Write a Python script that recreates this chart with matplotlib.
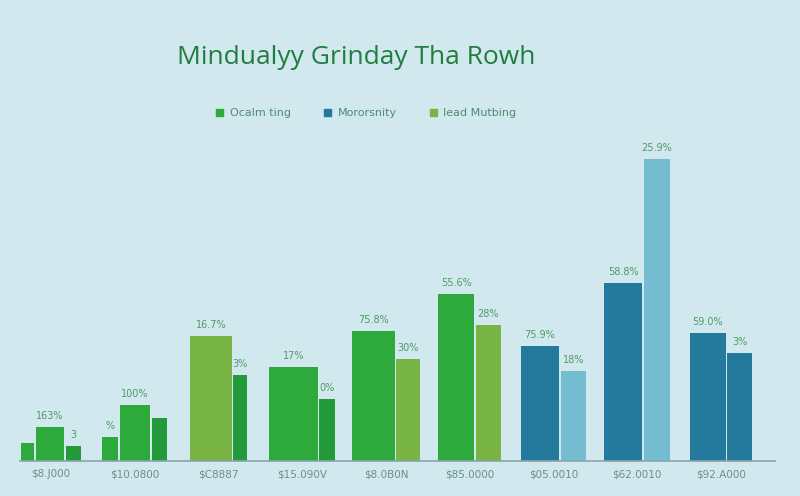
import numpy as np
import matplotlib.pyplot as plt
from matplotlib.patches import Patch

# data
categories = ['$8.J000', '$10.0800', '$C8887', '$15.090V', '$8.0B0N',
              '$85.0000', '$05.0010', '$62.0010', '$92.A000']
values = [[18, 34, 15], [24, 56, 43], [125, 86], [94, 62], [130, 102],
          [167, 136], [115, 90], [178, 302], [128, 108]]
bar_labels = [['', '163%', '3'], ['%', '100%', ''], ['16.7%', '3%'], ['17%', '0%'],
              ['75.8%', '30%'], ['55.6%', '28%'], ['75.9%', '18%'],
              ['58.8%', '25.9%'], ['59.0%', '3%']]
series = ['Ocalm ting', 'Mororsnity', 'Iead Mutbing']

# styling
bright = '#2eaa3c'
olive = '#77b444'
dark = '#239a3a'
teal = '#237a9c'
sky = '#74bccf'
bar_colors = [[bright, bright, dark], [bright, bright, dark], [olive, dark],
              [bright, dark], [bright, olive], [bright, olive], [teal, sky],
              [teal, sky], [teal, teal]]
bar_widths = [[0.16, 0.34, 0.18], [0.19, 0.36, 0.18], [0.50, 0.16], [0.58, 0.19],
              [0.51, 0.28], [0.43, 0.30], [0.46, 0.30], [0.45, 0.31], [0.43, 0.29]]
bg = '#d2e8ef'

fig = plt.figure(figsize=(8, 4.96), dpi=100, facecolor=bg)
ax = fig.add_axes([0.025, 0.0706, 0.944, 0.667])
ax.set_facecolor(bg)

for i, (vals, cols, wids, labs) in enumerate(zip(values, bar_colors, bar_widths, bar_labels)):
    total = sum(wids) + 0.02 * (len(wids) - 1)
    left = i - total / 2
    for v, c, w, lab in zip(vals, cols, wids, labs):
        ax.bar(left, v, width=w, align='edge', color=c, zorder=2)
        if lab:
            ax.text(left + w / 2, v + 6, lab, ha='center', va='bottom',
                    fontsize=7, color='#4f9a62')
        left += w + 0.02

ax.set_xlim(-0.37, 8.65)
ax.set_ylim(0, 331)
ax.set_xticks(range(len(categories)))
ax.set_xticklabels(categories, fontsize=7.5, color='#6a8f86')
ax.tick_params(axis='x', length=0, pad=6)
ax.set_yticks([])
for s in ['top', 'right', 'left']:
    ax.spines[s].set_visible(False)
ax.spines['bottom'].set_color('#8aa3aa')
ax.spines['bottom'].set_linewidth(1.2)

fig.text(0.445, 1 - 58 / 496, 'Mindualyy Grinday Tha Rowh', ha='center', va='center',
         fontsize=19, color='#1f7d3e', family='Open Sans')

handles = [Patch(color=bright), Patch(color=teal), Patch(color=olive)]
fig.legend(handles, series, loc='center', bbox_to_anchor=(0.458, 1 - 113 / 496),
           ncol=3, frameon=False, fontsize=8, handlelength=0.6, handleheight=0.6,
           columnspacing=3, handletextpad=0.6, labelcolor='#4f8a70')

fig.savefig('out.png', dpi=100, facecolor=bg)
